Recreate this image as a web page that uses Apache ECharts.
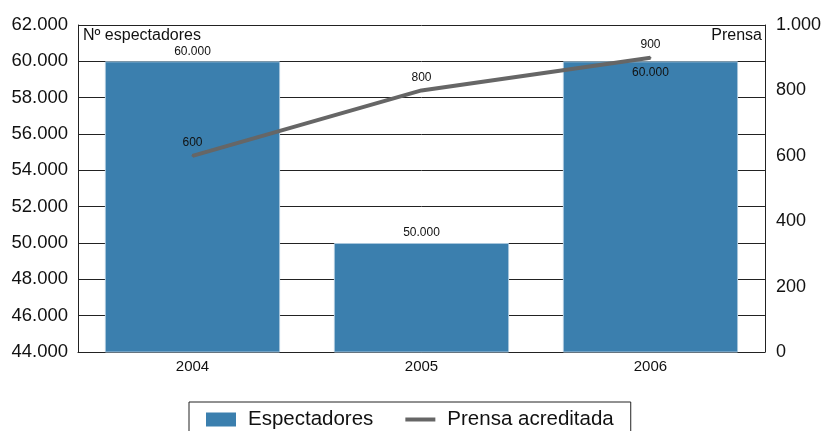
<!DOCTYPE html>
<html>
<head>
<meta charset="utf-8">
<script src="https://cdn.jsdelivr.net/npm/echarts@6/dist/echarts.min.js"></script>
<style>
html,body{margin:0;padding:0;background:#fff;}
#c{width:824px;height:431px;}
</style>
</head>
<body>
<div id="c"></div>
<script>
const categories = ['2004', '2005', '2006'];
const espectadores = [60000, 50000, 60000];
const prensa = [600, 800, 900];
const leftTicks = [44000, 46000, 48000, 50000, 52000, 54000, 56000, 58000, 60000, 62000];
const rightTicks = [0, 200, 400, 600, 800, 1000];

const FONT = '"Liberation Sans", Arial, Helvetica, sans-serif';
function fmt(v) {
  return String(v).replace(/\B(?=(\d{3})+(?!\d))/g, '.');
}

const chart = echarts.init(document.getElementById('c'), null, {renderer: 'canvas'});
chart.setOption({
  animation: false,
  textStyle: {fontFamily: FONT},
  grid: {left: 78, right: 56, top: 25, bottom: 79, containLabel: false},
  title: [
    {text: 'Nº espectadores', left: 81, top: 26, padding: 2,
     textStyle: {fontFamily: FONT, fontSize: 16, fontWeight: 'normal', color: '#111'}},
    {text: 'Prensa', right: 60, top: 26, padding: 2,
     textStyle: {fontFamily: FONT, fontSize: 16, fontWeight: 'normal', color: '#111'}}
  ],
  legend: {
    top: 402, left: 189,
    padding: [7, 17, 12, 17],
    borderColor: '#222', borderWidth: 1,
    itemWidth: 30, itemHeight: 14, itemGap: 30,
    textStyle: {fontFamily: FONT, fontSize: 20.5, color: '#111', padding: [0, 0, 0, 7]},
    data: [
      {name: 'Espectadores', icon: 'rect', itemStyle: {borderWidth: 0}},
      {name: 'Prensa acreditada', itemStyle: {opacity: 0}, lineStyle: {width: 4, color: '#666666'}}
    ]
  },
  xAxis: {
    type: 'category',
    data: categories,
    axisLine: {lineStyle: {color: '#222', width: 1}},
    axisTick: {show: false},
    axisLabel: {fontFamily: FONT, fontSize: 15, color: '#111', margin: 7}
  },
  yAxis: [
    {
      type: 'value', min: 44000, max: 62000, interval: 2000,
      axisLine: {show: true, lineStyle: {color: '#222', width: 1}},
      axisTick: {show: false},
      splitLine: {show: true, lineStyle: {color: '#222', width: 1}},
      axisLabel: {fontFamily: FONT, fontSize: 18.5, color: '#111', margin: 10,
        formatter: v => leftTicks.includes(v) ? fmt(v) : ''}
    },
    {
      type: 'value', min: 0, max: 1000, interval: 200,
      position: 'right',
      axisLine: {show: true, lineStyle: {color: '#222', width: 1}},
      axisTick: {show: false},
      splitLine: {show: false},
      axisLabel: {fontFamily: FONT, fontSize: 18, color: '#111', margin: 11,
        formatter: v => rightTicks.includes(v) ? fmt(v) : ''}
    }
  ],
  series: [
    {
      name: 'Espectadores',
      type: 'bar',
      yAxisIndex: 0,
      barWidth: '76.5%',
      itemStyle: {color: '#3b7fae', borderColor: '#a8c6dc', borderWidth: 1},
      label: {show: true, position: 'top', distance: 4, fontFamily: FONT, fontSize: 12, color: '#111',
        formatter: p => fmt(p.value)},
      data: espectadores.map((v, i) => i === 2 ? {value: v, label: {position: 'insideTop', distance: 5}} : v)
    },
    {
      name: 'Prensa acreditada',
      type: 'line',
      yAxisIndex: 1,
      symbol: 'circle',
      symbolSize: 2,
      lineStyle: {color: '#666666', width: 4},
      itemStyle: {color: '#666666'},
      label: {show: true, position: 'top', distance: 6, fontFamily: FONT, fontSize: 12, color: '#111'},
      data: prensa
    }
  ]
});
</script>
</body>
</html>
